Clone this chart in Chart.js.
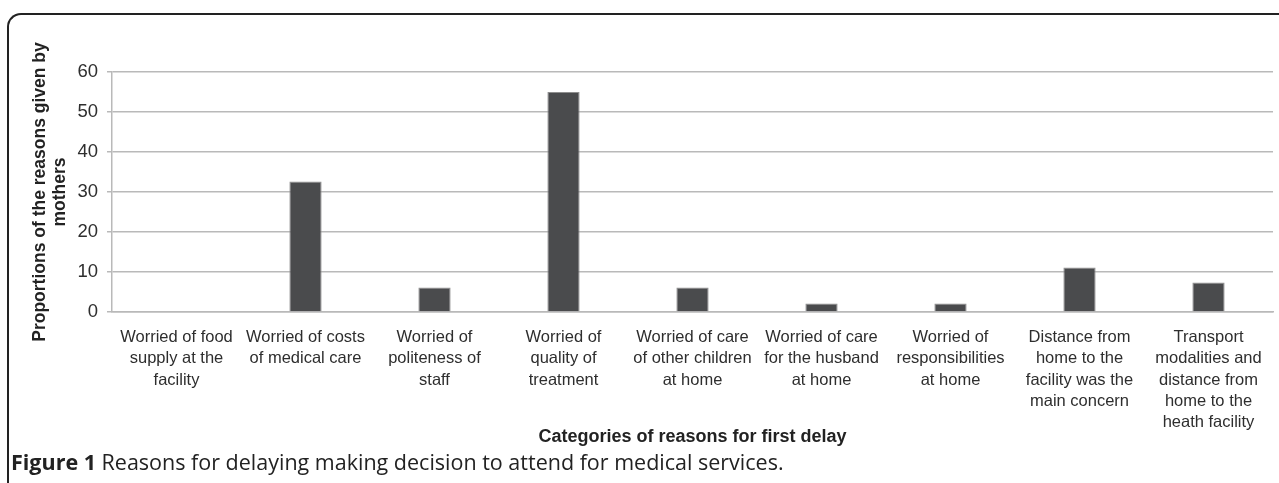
<!DOCTYPE html>
<html>
<head>
<meta charset="utf-8">
<script src="https://cdn.jsdelivr.net/npm/chart.js@4"></script>
<style>
  html, body { margin: 0; padding: 0; background: #fff; }
  body { width: 1279px; height: 483px; position: relative; overflow: hidden; }
  #frame { position: absolute; left: 7px; top: 13px; width: 1320px; height: 520px;
           border-left: 2px solid #222; border-top: 2px solid #222; border-top-left-radius: 14px; }
  #wrap { position: absolute; left: 0; top: 0; width: 1279px; height: 450px; }
  #caption { position: absolute; left: 11px; top: 449px; font-family: "Open Sans", sans-serif;
             font-size: 21.5px; line-height: 26px; color: #222; white-space: nowrap; }
  #caption b { font-weight: 700; }
</style>
</head>
<body>
<div id="frame"></div>
<div id="wrap"><canvas id="chart"></canvas></div>
<div id="caption"><b>Figure 1</b> Reasons for delaying making decision to attend for medical services.</div>
<script>
const categories = [
    ['Worried of food', 'supply at the', 'facility'],
    ['Worried of costs', 'of medical care'],
    ['Worried of', 'politeness of', 'staff'],
    ['Worried of', 'quality of', 'treatment'],
    ['Worried of care', 'of other children', 'at home'],
    ['Worried of care', 'for the husband', 'at home'],
    ['Worried of', 'responsibilities', 'at home'],
    ['Distance from', 'home to the', 'facility was the', 'main concern'],
    ['Transport', 'modalities and', 'distance from', 'home to the', 'heath facility']
];
const proportions = [0, 32.6, 6.1, 55, 6.1, 2.1, 2.1, 11.1, 7.4];
const yTicks = [0, 10, 20, 30, 40, 50, 60];

const gridGrey = '#b9b9b9';
const txt = '#2e2e2e';

new Chart(document.getElementById('chart'), {
    type: 'bar',
    data: {
        labels: categories,
        datasets: [{
            label: 'Proportion',
            data: proportions,
            backgroundColor: '#4a4b4d',
            borderColor: '#8e8e8e',
            borderWidth: 1,
            categoryPercentage: 1,
            barPercentage: 0.25
        }]
    },
    options: {
        responsive: true,
        maintainAspectRatio: false,
        animation: false,
        layout: { padding: { top: 72, right: 6, left: 0, bottom: 0 } },
        plugins: { legend: { display: false }, tooltip: { enabled: false } },
        scales: {
            x: {
                grid: { display: false },
                border: { display: true, color: gridGrey, width: 1.5 },
                ticks: {
                    autoSkip: false, maxRotation: 0, padding: 7, color: txt,
                    font: { family: 'Liberation Sans, Arial, sans-serif', size: 16.5, lineHeight: 1.29 }
                },
                title: {
                    display: true, text: 'Categories of reasons for first delay', color: '#222',
                    font: { family: 'Liberation Sans, Arial, sans-serif', size: 18, weight: 'bold', lineHeight: 1.2 },
                    padding: { top: 0, bottom: 2 }
                },
                afterFit: s => { s.height = 138; }
            },
            y: {
                min: 0, max: 60,
                afterBuildTicks: s => { s.ticks = yTicks.map(v => ({ value: v })); },
                grid: { color: gridGrey, lineWidth: 1.5, tickLength: 5 },
                border: { display: true, color: gridGrey, width: 1.5 },
                ticks: {
                    padding: 9, color: txt,
                    font: { family: 'Liberation Sans, Arial, sans-serif', size: 18.5 }
                },
                title: {
                    display: true, text: ['Proportions of the reasons given by', 'mothers'], color: '#222',
                    font: { family: 'Liberation Sans, Arial, sans-serif', size: 17.5, weight: 'bold', lineHeight: 1.15 },
                    padding: { top: 30, bottom: 0 }
                },
                afterFit: s => { s.width = 112; }
            }
        }
    }
});
</script>
</body>
</html>
